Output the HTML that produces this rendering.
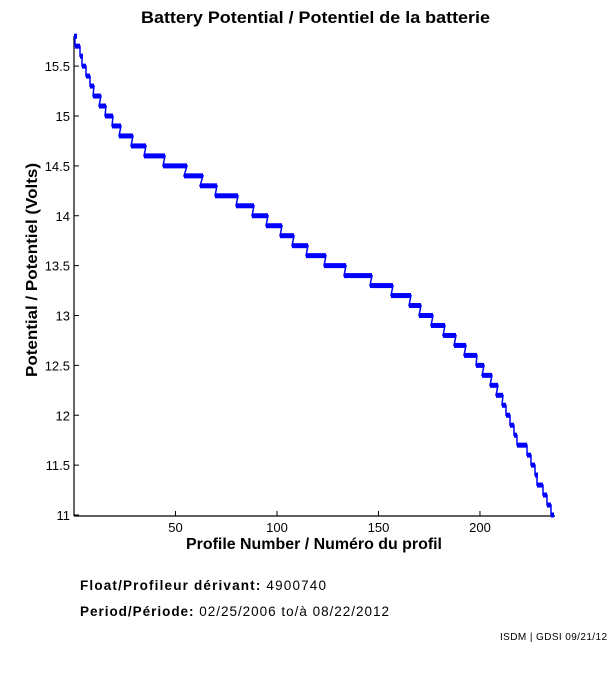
<!DOCTYPE html><html><head><style>body{margin:0;background:#fff}svg{display:block}text{font-family:"Liberation Sans",sans-serif}</style></head><body>
<svg width="611" height="675" xmlns="http://www.w3.org/2000/svg">
<text x="141" y="23" font-size="16.5" font-weight="bold" textLength="349" lengthAdjust="spacingAndGlyphs">Battery Potential / Potentiel de la batterie</text>
<g stroke="#000" stroke-width="1.2">
<line x1="74" y1="36" x2="74" y2="516"/><line x1="74" y1="516" x2="555" y2="516"/>
</g>
<g id="ticks" stroke="#000" stroke-width="1"></g>
<g id="labs" font-size="13"></g>
<g id="data"></g>
<text transform="translate(37,377) rotate(-90)" font-size="15.5" font-weight="bold" textLength="214" lengthAdjust="spacingAndGlyphs">Potential / Potentiel (Volts)</text>
<text x="186" y="549" font-size="15.5" font-weight="bold" textLength="256" lengthAdjust="spacingAndGlyphs">Profile Number / Numéro du profil</text>
<text x="80" y="590" font-size="13.5" textLength="246" lengthAdjust="spacing"><tspan font-weight="bold">Float/Profileur dérivant:</tspan> 4900740</text>
<text x="80" y="616" font-size="13.5" textLength="309" lengthAdjust="spacing"><tspan font-weight="bold">Period/Période:</tspan> 02/25/2006  to/à  08/22/2012</text>
<text x="500" y="640" font-size="10" textLength="107" lengthAdjust="spacing">ISDM | GDSI 09/21/12</text>
</svg>
<script>
var ns="http://www.w3.org/2000/svg";
function el(p,t,a,txt){var e=document.createElementNS(ns,t);for(var k in a)e.setAttribute(k,a[k]);if(txt)e.textContent=txt;document.getElementById(p).appendChild(e);}
function Y(v){return 515-(v-11)*99.75;}
for(var v=11;v<=15.51;v+=0.5){var y=Y(v);el("ticks","line",{x1:74,y1:y,x2:79,y2:y});el("labs","text",{x:70,y:y+5,"text-anchor":"end"},(Math.round(v*10)/10).toString());}
[50,100,150,200].forEach(function(n){var x=74+(n-1)*2.03+2;el("ticks","line",{x1:x,y1:516,x2:x,y2:511});el("labs","text",{x:x,y:532,"text-anchor":"middle"},n);});
var r=[[74,75],[75,80],[80,82],[82,86],[86,90],[90,94],[93,101],[99,106],[105,113],[112,121],[119,133],[131,146],[144,165],[163,187],[184,203],[200,217],[215,238],[236,254],[252,268],[266,282],[280,294],[292,308],[306,326],[324,346],[344,372],[370,393],[391,411],[409,421],[419,433],[431,445],[443,456],[454,466],[464,477],[476,484],[482,492],[490,498],[496,503],[502,506],[506,510],[510,514],[514,517],[517,527],[527,531],[531,535],[535,537],[537,543],[543,547],[547,551],[551,554]];
var pts="";
for(var i=0;i<r.length;i++){var v=15.8-i*0.1,y=Y(v);el("data","rect",{x:r[i][0],y:y-2.5,width:Math.max(r[i][1]-r[i][0],3),height:5,fill:"#0000ff"});pts+=r[i][0]+","+y+" "+r[i][1]+","+y+" ";}
el("data","polyline",{points:pts,fill:"none",stroke:"#0000ff","stroke-width":1.5});
</script>
</body></html>
